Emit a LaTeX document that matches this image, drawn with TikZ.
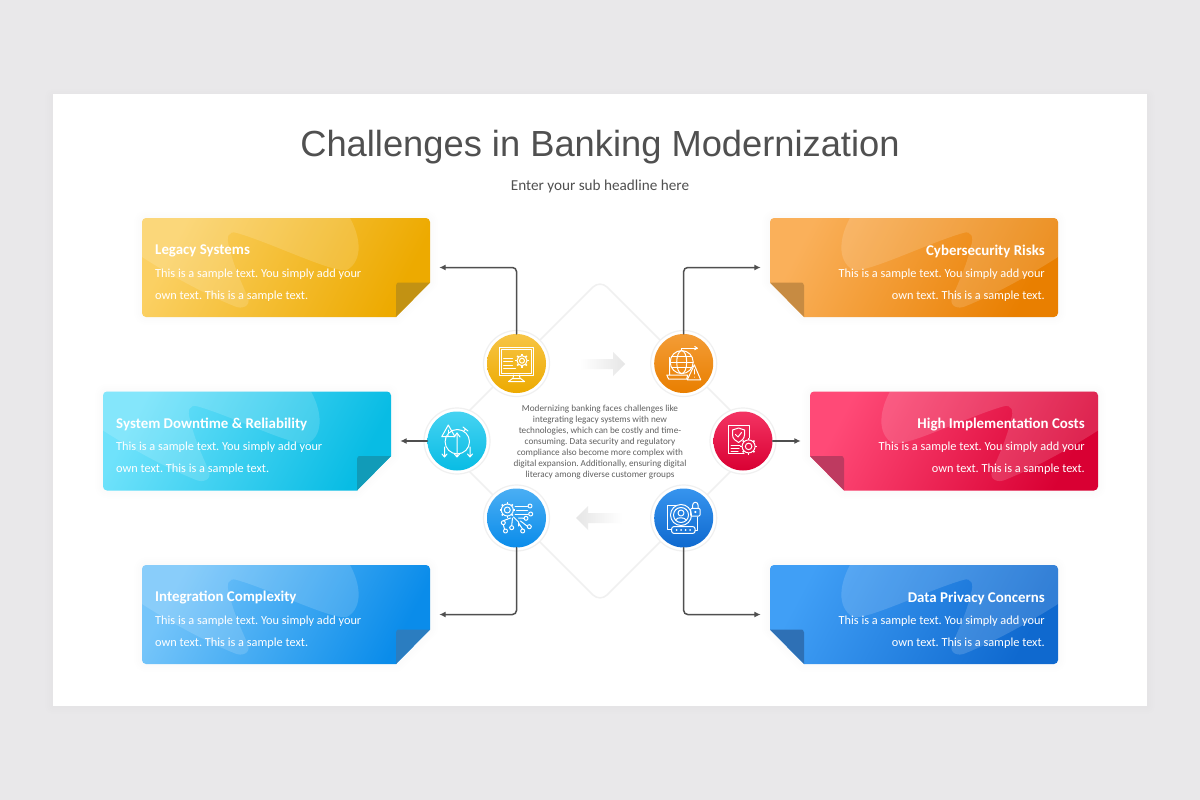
\documentclass[tikz,border=0pt]{standalone}
\usepackage{fontspec}
\setmainfont{Carlito}
\newfontfamily\headfont{Liberation Sans}
\usetikzlibrary{arrows.meta,calc}
\frenchspacing

%soft shadow under any closed path
\newcommand{\softshadow}[1]{%
	\foreach \w in {16,12,8,4}
		\draw[black,opacity=.005,line width=\w pt,line join=round] #1;
}
%small cog wheel for the icons
\newcommand{\cogwheel}[3]{%
	\foreach \a in {0,45,...,315}
		\draw[line width=1.5pt,line cap=butt] ($(#1,#2)+(\a:#3)$) -- ($(#1,#2)+(\a:#3+1.8)$);
	\draw (#1,#2) circle (#3);
	\draw (#1,#2) circle (#3*.5);
}
%one note card: name, x, y, mirror, anchor, align, colour prefix, title
\newcommand{\stickycard}[8]{%
	\begin{scope}[shift={(#2,#3)},xscale=#4]
		\def\cardpath{(0,50) [rounded corners=4pt] -- (0,0) -- (288,0) -- (288,58) [sharp corners] -- (288,64.5) -- (254,99) -- (6,99) [rounded corners=4pt] -- (0,99) -- (0,50) -- cycle}
		\softshadow{\cardpath}
		\shade[top color=#7A,bottom color=#7B,shading angle=62] \cardpath;
		\begin{scope}
			\clip \cardpath;
			\fill[white,opacity=.15] (208,0) .. controls (218,18) and (222,42) .. (205,52) .. controls (190,55) and (130,25) .. (95,15) .. controls (86,12) and (84,20) .. (87,28) .. controls (92,50) and (100,65) .. (106,80) .. controls (109,88) and (100,92) .. (92,88) .. controls (60,75) and (25,55) .. (0,39) -- (-1,-1) -- (208,-1) -- cycle;
		\end{scope}
		\fill[#7F] (254,99) -- (254,68.5) [rounded corners=3pt] -- (254,64.5) -- (258,64.5) [sharp corners] -- (288,64.5) -- cycle;
		\node[card box] (#1) at (144,49.5) {};
		\node[card title,anchor=#5] (#1 title) at (13,33) {#8};
		\node[card text,anchor=#5,align=#6] (#1 text) at (13,67) {This is a sample text. You simply add your\\own text. This is a sample text.};
	\end{scope}
}
\newcommand{\stickyR}[4]{\stickycard{#1}{#2}{#3}{1}{west}{left}{#1}{#4}}
\newcommand{\stickyL}[4]{\stickycard{#1}{#2+288}{#3}{-1}{east}{right}{#1}{#4}}

\begin{document}
\begin{tikzpicture}
		[x=1pt,y=-1pt,line cap=round,
		%Styles
		card box/.style={minimum width=288pt,minimum height=99pt,inner sep=0pt},
		card title/.style={text=white,font=\bfseries\fontsize{14.9}{18}\selectfont,inner sep=0pt},
		card text/.style={text=white,font=\fontsize{12.3}{22}\selectfont,inner sep=0pt},
		ring/.style={circle,minimum size=66pt,inner sep=0pt,fill=white,draw=ringgrey,line width=1.2pt},
		badge/.style={circle,minimum size=59pt,inner sep=0pt,shading angle=45},
		link/.style={draw=linegrey,line width=1.5pt,rounded corners=4pt,-{Latex[length=6.5pt,width=6pt]},shorten >=9pt},
		icon/.style={draw=white,line width=1pt,line cap=round,line join=round}
		]
		
		%Colors
		\definecolor{pagegrey}{HTML}{E9E8EA}
		\definecolor{ringgrey}{HTML}{F0F0F0}
		\definecolor{linegrey}{HTML}{4F4F4F}
		\definecolor{textgrey}{HTML}{505050}
		\definecolor{legacyA}{HTML}{FBD063}	\definecolor{legacyB}{HTML}{EDAA00}	\definecolor{legacyF}{HTML}{C29213}
		\definecolor{cyberA}{HTML}{FAB05A}	\definecolor{cyberB}{HTML}{E97F00}	\definecolor{cyberF}{HTML}{C78B42}
		\definecolor{downtimeA}{HTML}{6FE2FB}	\definecolor{downtimeB}{HTML}{08BCE4}	\definecolor{downtimeF}{HTML}{119BB8}
		\definecolor{costsA}{HTML}{FF4A77}	\definecolor{costsB}{HTML}{D90033}	\definecolor{costsF}{HTML}{BE3A60}
		\definecolor{integrationA}{HTML}{75C5FA}	\definecolor{integrationB}{HTML}{0A8CEA}	\definecolor{integrationF}{HTML}{2B7DC0}
		\definecolor{privacyA}{HTML}{409FF6}	\definecolor{privacyB}{HTML}{0F69CF}	\definecolor{privacyF}{HTML}{2E70B5}
		
		%The page
		\useasboundingbox (0,0) rectangle (1200,800);
		\fill[pagegrey] (0,0) rectangle (1200,800);
		\softshadow{(53,97) rectangle (1147,706)}
		\fill[white] (53,94) rectangle (1147,706);
		
		\node[text=textgrey,font=\headfont\fontsize{36.3}{40}\selectfont] (title) at (600,147) {Challenges in Banking Modernization};
		\node[text=textgrey,font=\fontsize{15.2}{17}\selectfont] (subtitle) at (600,186) {Enter your sub headline here};
		
		%The cards
		\stickyR{legacy}{142}{218}{Legacy Systems}
		\stickyL{cyber}{770}{218}{Cybersecurity Risks}
		\stickyR{downtime}{103}{391.5}{System Downtime \& Reliability}
		\stickyL{costs}{810}{391.5}{High Implementation Costs}
		\stickyR{integration}{142}{565}{Integration Complexity}
		\stickyL{privacy}{770}{565}{Data Privacy Concerns}
		
		%The diamond
		\draw[ringgrey,line width=1.5pt,rounded corners=10pt] (600,280) -- (761,441) -- (600,602) -- (439,441) -- cycle;
		
		%Grey arrows
		\shade[left color=white,right color=black!10] (580,359) -- (613,359) -- (613,352) -- (625,364) -- (613,376) -- (613,369) -- (580,369) -- cycle;
		\shade[left color=black!10,right color=white] (622,513) -- (588,513) -- (588,506) -- (576,518) -- (588,530) -- (588,523) -- (622,523) -- cycle;
		
		%The circles
		\node[ring] at (516.5,363.5) {};
		\node[ring] at (683.7,363.5) {};
		\node[ring] at (457,441) {};
		\node[ring] at (743,441) {};
		\node[ring] at (516.5,518) {};
		\node[ring] at (683.7,518) {};
		\node[badge,top color=legacyA!70!legacyB,bottom color=legacyB] (legacy badge) at (516.5,363.5) {};
		\node[badge,top color=cyberA!60!cyberB,bottom color=cyberB] (cyber badge) at (683.7,363.5) {};
		\node[badge,top color=downtimeA!60!downtimeB,bottom color=downtimeB] (downtime badge) at (457,441) {};
		\node[badge,top color=costsA!70!costsB,bottom color=costsB] (costs badge) at (743,441) {};
		\node[badge,top color=integrationA!60!integrationB,bottom color=integrationB] (integration badge) at (516.5,518) {};
		\node[badge,top color=privacyA!80!privacyB,bottom color=privacyB] (privacy badge) at (683.7,518) {};
		
		%The connectors
		\draw[link] (legacy badge.north) |- (legacy.east);
		\draw[link] (cyber badge.north) |- (cyber.west);
		\draw[link] (downtime badge.west) -- (downtime.east);
		\draw[link] (costs badge.east) -- (costs.west);
		\draw[link] (integration badge.south) |- (integration.east);
		\draw[link] (privacy badge.south) |- (privacy.west);
		
		\node[text=textgrey!90!white,align=center,font=\fontsize{9.2}{11}\selectfont,inner sep=0pt] (summary) at (600,442) {Modernizing banking faces challenges like\\integrating legacy systems with new\\technologies, which can be costly and time-\\consuming. Data security and regulatory\\compliance also become more complex with\\digital expansion. Additionally, ensuring digital\\literacy among diverse customer groups};
		
		%Icon monitor
		\begin{scope}[shift={(516.5,363.5)},icon]
			\draw (-17,-16) rectangle (17,11.5);
			\draw (-15,-14) rectangle (15,9.5);
			\draw (-13,-5) -- (-4,-5) (-13,-1.7) -- (-4,-1.7) (-13,1.6) -- (-4,1.6) (-13,5) -- (-1,5);
			\cogwheel{5.5}{-2.8}{5}
			\draw (-3,11.5) -- (-3.5,15) -- (3.5,15) -- (3,11.5);
			\draw (-8,18) -- (8,18) (-8,18) -- (-4,15) (8,18) -- (4,15);
		\end{scope}
		%Icon globe
		\begin{scope}[shift={(683.7,363.5)},icon]
			\draw (-2,-1.4) circle (11.5);
			\draw (-2,-1.4) ellipse (5 and 11.5);
			\draw (-13.5,-1.4) -- (9.5,-1.4) (-12,-7) -- (8,-7) (-12,4.2) -- (8,4.2);
			\draw (-2,-13) -- (-2,-15.4) -- (13.6,-15.4);
			\draw (11,-17) -- (13.6,-15.4) -- (11,-13.8);
			\draw (-14,-6) -- (-14,11) (-17,11.5) -- (4,11.5) -- (3,15.6) -- (-15,15.6) -- cycle;
			\draw (10.6,1.3) -- (17,16.3) -- (3.6,16.3) -- cycle;
			\draw (10.4,6) -- (10.4,10.5) (10.4,13.5) -- (10.4,13.6);
		\end{scope}
		%Icon shield
		\begin{scope}[shift={(743,441)},icon]
			\draw (1,12) -- (-15,12) -- (-15,-15.3) -- (6.3,-15.3) -- (6.3,-3);
			\draw (-4.4,-13) -- (-10.5,-11) -- (-10.5,-6) .. controls (-10.5,-2) and (-7,0) .. (-4.4,1.5) .. controls (-2,0) and (1.5,-2) .. (1.5,-6) -- (1.5,-11) -- cycle;
			\draw (-7.5,-6.5) -- (-5,-4) -- (-1.5,-8.5);
			\draw (-12,4) -- (-3,4) (-12,7.3) -- (-4,7.3) (-12,10) -- (-5,10);
			\cogwheel{5.6}{5.4}{6.5}
		\end{scope}
		%Icon stopwatch
		\begin{scope}[shift={(457,441)},icon]
			\draw (.3,.7) circle (12.2);
			\draw (-8.7,-16) -- (-2,-4.3) -- (-15.3,-4.3) -- cycle;
			\draw (-8.7,-11) -- (-8.7,-8) (-8.7,-6) -- (-8.7,-5.9);
			\draw (6,-14) -- (11,-10) (8.5,-12) -- (6.5,-9.5);
			\draw (0,-8) -- (0,16) (-3,12.5) -- (0,16) -- (3,12.5);
			\draw (-12.5,6) -- (-12.5,16) (-15,13) -- (-12.5,16) -- (-10,13);
			\draw (13,6) -- (13,16) (10.5,13) -- (13,16) -- (15.5,13);
			\draw (-3,-4) -- (0,-8) -- (3,-4);
		\end{scope}
		%Icon circuit
		\begin{scope}[shift={(516.5,518)},icon]
			\cogwheel{-9.2}{-8}{6}
			\draw (-1.5,-12) -- (11,-12) (-1.5,-4) -- (11.5,-4) (0,-8) -- (11,-8);
			\draw (-3,-1) -- (2,4) -- (2,8) (-4,0) -- (-4.8,7.5) (2,0) -- (7.5,0.3) (4,3) -- (10.5,8) (2,5) -- (6,11) (-6,0) -- (-13.2,2.7);
			\foreach \x/\y in {13.5/-12,14.2/-4,9.5/.3,12.8/8.7,6.2/13,-4.8/9.7,-13.2/4.7,-11/13}
				\draw (\x,\y) circle (2);
			\draw (-13.2,6.7) -- (-12,11);
		\end{scope}
		%Icon privacy
		\begin{scope}[shift={(683.7,518)},icon]
			\draw (-2.7,-3) circle (10.5);
			\draw (-2.7,-3) circle (7.5);
			\draw (-2.7,-5) circle (3);
			\draw (-8,2) .. controls (-7,-1) and (1,-1) .. (2.5,2);
			\draw (-8,-13) -- (-16,-13) -- (-16,11.5) -- (-12,11.5);
			\draw (11.3,12) -- (14,12) -- (14,-1);
			\draw[rounded corners=2pt] (-12,8.7) rectangle (11.3,15.3);
			\foreach \x in {-7,-2.5,2,6.5}
				\fill[white] (\x,12) circle (1);
			\draw[rounded corners=1pt] (7,-9.7) rectangle (16.3,-2);
			\draw (8.8,-9.7) -- (8.8,-12.5) .. controls (8.8,-16.8) and (14.5,-16.8) .. (14.5,-12.5) -- (14.5,-9.7);
			\fill[white] (11.6,-6) circle (1.2);
		\end{scope}
	\end{tikzpicture}
\end{document}
